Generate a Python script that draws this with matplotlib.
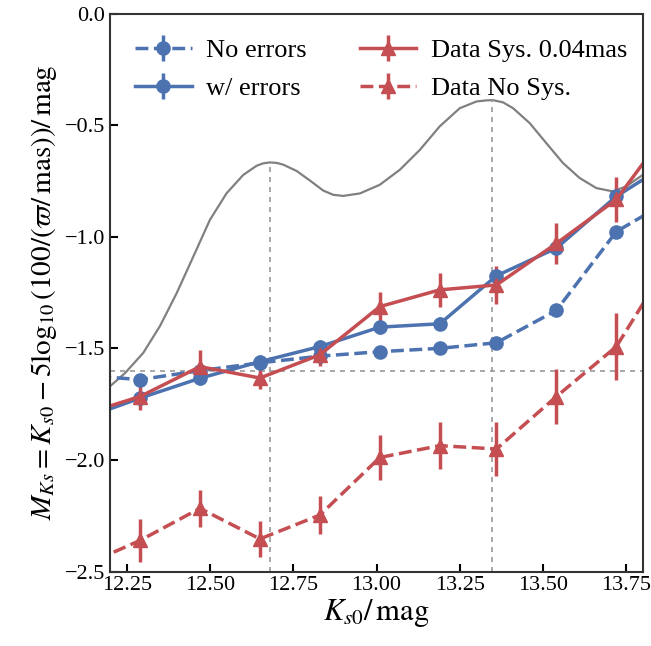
"""
Absolute magnitude vs Ks0 for model (with/without errors) and data,
with the overlaid density curve and its two peaks marked.
"""
import numpy as np
import matplotlib
matplotlib.use("Agg")
import matplotlib.pyplot as plt

# bin centres (first and last bins fall just outside the plotted range)
ks0 = [12.11, 12.29, 12.47, 12.65, 12.83, 13.01, 13.19, 13.36, 13.54, 13.72, 13.90]

no_errors = [-1.62, -1.64, -1.60, -1.565, -1.535, -1.515, -1.50, -1.475, -1.33, -0.977, -0.82]
no_errors_err = [0.02, 0.02, 0.02, 0.02, 0.02, 0.02, 0.02, 0.02, 0.02, 0.02, 0.02]

w_errors = [-1.82, -1.723, -1.634, -1.56, -1.492, -1.405, -1.39, -1.175, -1.051, -0.819, -0.65]
w_errors_err = [0.03, 0.03, 0.03, 0.03, 0.03, 0.03, 0.03, 0.03, 0.03, 0.03, 0.03]

data_sys = [-1.80, -1.716, -1.582, -1.633, -1.529, -1.313, -1.238, -1.216, -1.03, -0.833, -0.47]
data_sys_err = [0.06, 0.06, 0.075, 0.05, 0.05, 0.067, 0.075, 0.086, 0.093, 0.10, 0.11]

data_nosys = [-2.48, -2.361, -2.217, -2.354, -2.247, -1.989, -1.936, -1.951, -1.716, -1.492, -1.06]
data_nosys_err = [0.09, 0.095, 0.083, 0.08, 0.087, 0.099, 0.105, 0.119, 0.125, 0.15, 0.16]

# density curve
curve_x = [12.20, 12.245, 12.30, 12.35, 12.40, 12.45, 12.50, 12.55, 12.60, 12.64,
           12.66, 12.68, 12.70, 12.72, 12.76, 12.80, 12.84, 12.87, 12.90, 12.95,
           13.01, 13.07, 13.13, 13.19, 13.25, 13.30, 13.33, 13.35, 13.38, 13.41,
           13.46, 13.51, 13.56, 13.61, 13.66, 13.71, 13.75, 13.80]
curve_y = [-1.67, -1.611, -1.52, -1.40, -1.253, -1.089, -0.924, -0.805, -0.723, -0.682,
           -0.671, -0.667, -0.669, -0.677, -0.705, -0.748, -0.793, -0.812, -0.817, -0.806,
           -0.767, -0.700, -0.611, -0.505, -0.424, -0.394, -0.389, -0.388, -0.398, -0.424,
           -0.491, -0.581, -0.670, -0.737, -0.782, -0.797, -0.774, -0.722]

peaks_x = [12.681, 13.347]
peaks_y = [-0.667, -0.388]
ref_level = -1.6

blue = "#4C72B0"
red = "#C44E52"

plt.rcParams["font.family"] = ["Liberation Serif", "DejaVu Serif"]
plt.rcParams["mathtext.fontset"] = "stix"

fig = plt.figure(figsize=(6.51, 6.46), dpi=100)
ax = fig.add_axes([0.169, 0.1153, 0.8187, 0.8637])

ax.plot(curve_x, curve_y, color="#808080", lw=1.6, zorder=1,
        solid_joinstyle="round")
ax.axhline(ref_level, color="#999999", ls=(0, (3, 3)), lw=1.2, zorder=1)
for px, py in zip(peaks_x, peaks_y):
    ax.plot([px, px], [-2.5, py], color="#999999", ls=(0, (3, 3)), lw=1.2, zorder=1)

common = dict(lw=2.5, elinewidth=2.5, capsize=0, ms=9.5)
ax.errorbar(ks0, no_errors, yerr=no_errors_err, color=blue, ls="--", marker="o",
            label="No errors", **common)
ax.errorbar(ks0, w_errors, yerr=w_errors_err, color=blue, ls="-", marker="o",
            label="w/ errors", **common)
ax.errorbar(ks0, data_sys, yerr=data_sys_err, color=red, ls="-", marker="^",
            label="Data Sys. 0.04mas", **common)
ax.errorbar(ks0, data_nosys, yerr=data_nosys_err, color=red, ls="--", marker="^",
            label="Data No Sys.", **common)

ax.set_xlim(12.2, 13.8)
ax.set_ylim(-2.5, 0.0)
ax.set_xticks([12.25, 12.50, 12.75, 13.00, 13.25, 13.50, 13.75])
ax.set_yticks([-2.5, -2.0, -1.5, -1.0, -0.5, 0.0])
ax.tick_params(direction="in", length=6, width=1.5, labelsize=16)
for s in ax.spines.values():
    s.set_linewidth(1.5)
    s.set_color("#333333")

ax.set_xlabel(r"$K_{s0}/\,\mathrm{mag}$", fontsize=22, labelpad=1)
ax.set_ylabel(r"$M_{Ks} = K_{s0} - 5\log_{10}(100/(\varpi/\,\mathrm{mas}))/\,\mathrm{mag}$",
              fontsize=21, labelpad=4)

ax.legend(loc="upper left", ncol=2, frameon=False, fontsize=19,
          handlelength=2.15, handletextpad=0.55, columnspacing=2.0,
          labelspacing=0.55, borderaxespad=0.55)

fig.savefig("out.png", dpi=100)
